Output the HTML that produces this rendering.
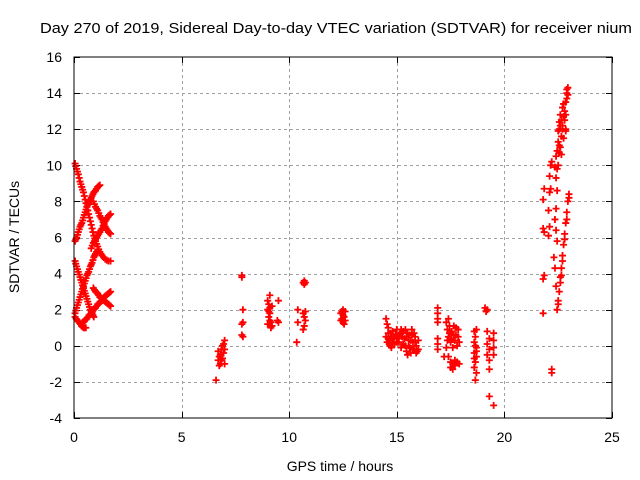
<!DOCTYPE html>
<html><head><meta charset="utf-8"><style>
body{margin:0;background:#fff}
svg{display:block;font-family:"Liberation Sans",sans-serif}
</style></head><body>
<svg id="chart" width="640" height="480">
<rect width="640" height="480" fill="#fff"/>
<text x="40" y="33" font-size="15" textLength="592" lengthAdjust="spacingAndGlyphs">Day 270 of 2019, Sidereal Day-to-day VTEC variation (SDTVAR) for receiver nium</text>
<text transform="translate(19,237) rotate(-90)" text-anchor="middle" font-size="14">SDTVAR / TECUs</text>
<text x="340" y="471" text-anchor="middle" font-size="14">GPS time / hours</text>
<g id="grid"></g><g id="ticks"></g><g id="marks"></g>
<rect x="74" y="57" width="538" height="361" fill="none" stroke="#000" stroke-width="1"/>
</svg>
<script>
const xTicks=[0,5,10,15,20,25];
const yTicks=[-4,-2,0,2,4,6,8,10,12,14,16];
const arcA=[[0.05,10.1],[0.08,9.95],[0.12,9.8],[0.16,9.65],[0.2,9.5],[0.24,9.3],[0.28,9.1],[0.32,8.95],[0.36,8.8],[0.4,8.65],[0.44,8.5],[0.48,8.3],[0.52,8.1],[0.56,7.9],[0.6,7.7],[0.64,7.5],[0.68,7.3],[0.72,7.1],[0.76,6.9],[0.8,6.7],[0.84,6.5],[0.88,6.3],[0.92,6.1],[0.96,5.95],[1.0,5.8],[1.05,5.65],[1.1,5.5],[1.15,5.35],[1.2,5.2],[1.25,5.1],[1.3,5.0],[1.38,4.9],[1.45,4.8],[1.52,4.75],[1.6,4.7],[1.7,4.7]];
const arcB=[[0.05,5.8],[0.08,5.9],[0.12,6.0],[0.16,6.15],[0.2,6.3],[0.24,6.45],[0.28,6.6],[0.32,6.7],[0.36,6.8],[0.4,6.95],[0.44,7.1],[0.48,7.25],[0.52,7.4],[0.56,7.55],[0.6,7.7],[0.64,7.8],[0.68,7.9],[0.72,8.0],[0.76,8.1],[0.8,8.2],[0.84,8.3],[0.88,8.4],[0.92,8.5],[0.96,8.55],[1.0,8.6],[1.05,8.7],[1.1,8.8],[1.15,8.85],[1.2,8.9]];
const arcC=[[0.9,8.0],[0.95,7.85],[1.0,7.7],[1.05,7.6],[1.1,7.5],[1.15,7.35],[1.2,7.2],[1.25,7.1],[1.3,7.0],[1.35,6.85],[1.4,6.7],[1.45,6.6],[1.5,6.5],[1.55,6.4],[1.6,6.3],[1.65,6.25],[1.7,6.2]];
const arcD=[[0.8,5.4],[0.85,5.55],[0.9,5.7],[0.95,5.8],[1.0,5.9],[1.05,6.0],[1.1,6.1],[1.15,6.2],[1.2,6.3],[1.25,6.4],[1.3,6.5],[1.35,6.65],[1.4,6.8],[1.45,6.9],[1.5,7.0],[1.55,7.1],[1.6,7.2],[1.65,7.25],[1.7,7.3]];
const arcE=[[0.05,4.7],[0.08,4.55],[0.12,4.4],[0.16,4.25],[0.2,4.1],[0.24,3.95],[0.28,3.8],[0.32,3.65],[0.36,3.5],[0.4,3.35],[0.44,3.2],[0.48,3.05],[0.52,2.9],[0.56,2.75],[0.6,2.6],[0.64,2.45],[0.68,2.3],[0.72,2.15],[0.76,2.0],[0.8,1.9],[0.84,1.8],[0.88,1.7],[0.92,1.6]];
const arcF=[[0.05,1.8],[0.08,1.95],[0.12,2.1],[0.16,2.25],[0.2,2.4],[0.24,2.55],[0.28,2.7],[0.32,2.85],[0.36,3.0],[0.4,3.15],[0.44,3.3],[0.48,3.45],[0.52,3.6],[0.56,3.75],[0.6,3.9],[0.64,4.0],[0.68,4.1],[0.72,4.25],[0.76,4.4],[0.8,4.5],[0.84,4.6],[0.88,4.75],[0.92,4.9],[0.96,5.0],[1.0,5.1],[1.05,5.2],[1.1,5.3]];
const arcG=[[0.4,1.3],[0.45,1.35],[0.5,1.4],[0.55,1.45],[0.6,1.5],[0.65,1.6],[0.7,1.7],[0.75,1.75],[0.8,1.8],[0.85,1.9],[0.9,2.0],[0.95,2.05],[1.0,2.1],[1.05,2.2],[1.1,2.3],[1.15,2.35],[1.2,2.4],[1.25,2.45],[1.3,2.5],[1.35,2.6],[1.4,2.7],[1.45,2.75],[1.5,2.8],[1.55,2.85],[1.6,2.9],[1.65,2.95],[1.7,3.0]];
const arcH=[[0.9,3.2],[0.95,3.1],[1.0,3.0],[1.05,2.95],[1.1,2.9],[1.15,2.8],[1.2,2.7],[1.25,2.65],[1.3,2.6],[1.35,2.55],[1.4,2.5],[1.45,2.45],[1.5,2.4],[1.55,2.35],[1.6,2.3],[1.65,2.25],[1.7,2.2]];
const arcI=[[0.05,1.6],[0.1,1.5],[0.15,1.4],[0.2,1.35],[0.25,1.3],[0.3,1.2],[0.35,1.1],[0.4,1.05],[0.45,1.0],[0.5,1.0],[0.55,1.0]];
const cl7=[[6.6,-1.9],[6.7,-0.3],[6.7,-0.8],[6.75,-1.1],[6.8,-0.5],[6.8,-1.0],[6.85,-0.2],[6.9,0.0],[6.9,-0.7],[6.95,-0.4],[7.0,0.3],[7.0,-0.2],[7.0,-1.0],[6.85,-0.8],[6.75,-0.6],[6.95,0.1]];
const cl8=[[7.8,3.8],[7.8,3.9],[7.85,2.0],[7.8,1.2],[7.85,1.3],[7.8,0.6],[7.85,0.5]];
const cl9=[[9.0,2.5],[9.1,2.8],[9.05,2.3],[9.0,2.0],[9.1,1.8],[9.05,1.6],[9.1,1.4],[9.0,1.2],[9.15,1.0],[9.2,1.1],[9.2,2.2],[9.5,2.5],[9.45,1.4],[9.5,1.3],[9.05,1.9],[9.1,2.1],[9.15,1.3]];
const cl10=[[10.4,2.0],[10.4,1.3],[10.35,0.2],[10.7,3.6],[10.7,3.4],[10.75,3.5],[10.65,1.8],[10.7,1.6],[10.75,1.4],[10.7,1.1],[10.65,0.9],[10.75,1.9],[10.65,3.5]];
const cl12=[[12.4,1.8],[12.5,2.0],[12.6,1.9],[12.45,1.5],[12.55,1.6],[12.5,1.3],[12.6,1.4],[12.4,1.4],[12.5,1.7],[12.45,1.9],[12.55,1.2]];
const cl15=[[14.5,1.5],[14.55,1.2],[14.6,1.0],[14.5,0.5],[14.55,0.2],[14.6,0.7],[14.65,0.3],[14.7,0.0],[14.75,0.5],[14.8,0.8],[14.85,0.4],[14.9,0.1],[14.95,0.6],[15.0,0.9],[15.05,0.4],[15.1,0.2],[15.15,0.7],[15.2,0.9],[15.25,0.5],[15.3,0.1],[15.3,0.8],[15.35,0.4],[15.4,0.0],[15.45,-0.3],[15.5,0.7],[15.55,0.3],[15.6,-0.1],[15.65,-0.4],[15.7,0.6],[15.75,0.2],[15.8,-0.2],[15.85,0.5],[15.9,0.0],[15.95,-0.3],[15.5,-0.5],[15.7,0.9],[15.4,0.9],[16.0,0.3],[15.2,-0.1],[15.9,-0.4],[14.6,0.4],[14.7,0.7],[14.8,0.2],[14.9,0.5],[15.0,0.2],[15.1,0.6],[15.45,0.5],[15.55,0.0],[15.65,0.3],[15.75,-0.2],[15.85,0.2],[15.6,0.6],[15.8,0.7],[16.0,-0.2],[14.65,0.1],[14.75,-0.1]];
const cl17=[[16.9,2.1],[16.9,1.8],[16.9,1.5],[16.9,1.3],[16.9,0.4],[16.9,0.1],[16.9,-0.2],[17.3,1.3],[17.35,0.9],[17.4,0.5],[17.45,1.1],[17.5,0.2],[17.55,0.8],[17.6,-0.1],[17.65,0.6],[17.7,0.3],[17.75,1.0],[17.8,0.0],[17.85,0.5],[17.9,0.2],[17.3,-0.1],[17.4,-0.6],[17.5,-0.9],[17.6,-1.3],[17.7,-1.1],[17.8,-0.9],[17.9,-1.0],[17.2,-0.6],[17.35,0.3],[17.45,0.7],[17.55,0.4],[17.65,1.1],[17.75,0.6],[17.85,0.9],[17.4,1.5],[17.6,-1.0],[17.5,-1.2],[17.7,-0.8]];
const cl19=[[18.6,0.8],[18.65,0.5],[18.6,0.2],[18.7,-0.1],[18.6,-0.4],[18.7,-0.6],[18.65,-0.9],[18.6,-1.2],[18.7,-1.5],[18.65,-1.9],[18.7,0.9],[19.1,2.1],[19.2,2.0],[19.15,1.9],[19.2,0.8],[19.3,0.4],[19.2,0.1],[19.3,-0.2],[19.2,-0.5],[19.3,-0.8],[19.5,0.7],[19.5,0.3],[19.5,-0.1],[19.5,-0.5],[19.3,-1.3],[19.3,-2.8],[19.5,-3.3],[18.65,0.0],[18.7,-0.3],[18.6,-0.7]];
const late=[[21.8,1.8],[21.8,3.7],[21.85,3.9],[21.8,6.5],[21.85,6.3],[21.8,8.1],[21.85,8.7],[22.05,6.1],[22.1,6.6],[22.05,7.5],[22.1,8.5],[22.15,8.7],[22.2,-1.3],[22.2,-1.5],[22.1,9.4],[22.15,10.0],[22.2,10.2],[22.35,9.9],[22.4,10.5],[22.45,10.8],[22.5,11.3],[22.5,11.9],[22.55,12.4],[22.6,12.8],[22.65,12.5],[22.7,12.2],[22.55,12.0],[22.8,13.0],[22.85,13.5],[22.9,14.0],[22.95,14.3],[22.85,11.9],[22.75,11.5],[22.6,11.0],[22.65,10.6],[22.4,9.3],[22.7,13.2],[22.75,12.7],[22.9,13.7],[22.85,12.0],[22.45,8.6],[22.4,7.6],[22.35,7.0],[22.4,6.4],[22.45,5.8],[22.3,4.9],[22.35,4.3],[22.4,3.3],[22.45,2.0],[22.5,2.5],[22.55,3.0],[22.6,3.8],[22.65,4.3],[22.7,5.0],[22.75,5.6],[22.8,6.2],[22.85,6.8],[22.9,7.4],[22.95,8.0],[23.0,8.4],[23.0,8.2],[22.9,7.0],[22.7,4.7],[22.6,3.5],[22.5,2.3],[22.8,5.9],[22.65,3.9],[22.5,10.0],[22.55,10.7],[22.65,11.6],[22.7,12.0],[22.8,12.5],[22.9,14.2],[22.95,13.9],[22.6,12.2],[22.75,13.4],[22.45,9.8],[22.55,11.1],[22.85,12.8]];
const series=[arcA,arcB,arcC,arcD,arcE,arcF,arcG,arcH,arcI,cl7,cl8,cl9,cl10,cl12,cl15,cl17,cl19,late];

const X0=74,X1=612,Y0=418,Y1=57;
const sx=v=>X0+(v-0)/(25-0)*(X1-X0);
const sy=v=>Y0-(v+4)/(16+4)*(Y0-Y1);
const NS='http://www.w3.org/2000/svg';
const grid=document.getElementById('grid'),ticks=document.getElementById('ticks'),marks=document.getElementById('marks');
function mk(t,a){const e=document.createElementNS(NS,t);for(const k in a)e.setAttribute(k,a[k]);return e;}
xTicks.forEach(v=>{
  const x=Math.round(sx(v))+0.5;
  if(v>0&&v<25){const g=mk('line',{x1:x,x2:x,y1:Y1,y2:Y0,stroke:'#a0a0a0','stroke-dasharray':'3,3'});
  
  grid.appendChild(g);}
  const t1=mk('line',{x1:x,x2:x,y1:Y0,y2:Y0-6,stroke:'#000'});
  
  ticks.appendChild(t1);
  const t2=mk('line',{x1:x,x2:x,y1:Y1,y2:Y1+6,stroke:'#000'});
  
  ticks.appendChild(t2);
  const l=mk('text',{x:sx(v),y:Y0+24,'text-anchor':'middle','font-size':14});l.textContent=v;
  
  ticks.appendChild(l);
});
yTicks.forEach(v=>{
  const y=Math.round(sy(v))+0.5;
  if(v>-4&&v<16){const g=mk('line',{x1:X0,x2:X1,y1:y,y2:y,stroke:'#a0a0a0','stroke-dasharray':'3,3'});
  
  grid.appendChild(g);}
  const t1=mk('line',{x1:X0,x2:X0+6,y1:y,y2:y,stroke:'#000'});
  
  ticks.appendChild(t1);
  const t2=mk('line',{x1:X1,x2:X1-6,y1:y,y2:y,stroke:'#000'});
  
  ticks.appendChild(t2);
  const l=mk('text',{x:X0-12,y:sy(v)+5,'text-anchor':'end','font-size':14});l.textContent=v;
  
  ticks.appendChild(l);
});
series.forEach(s=>s.forEach(p=>{
  const x=sx(p[0]),y=sy(p[1]);
  const m=mk('path',{d:`M${x-3.5} ${y}H${x+3.5}M${x} ${y-3.5}V${y+3.5}`,stroke:'#ff0000','stroke-width':1.8,fill:'none'});
  
  
  marks.appendChild(m);
}));
</script>
</body></html>
